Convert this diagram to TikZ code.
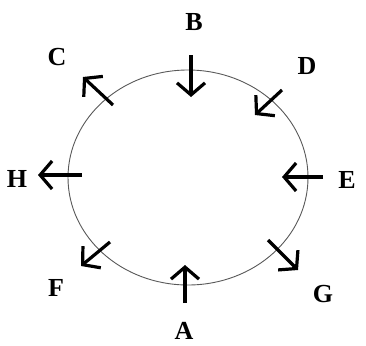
\documentclass[tikz,border=0pt]{standalone}
\usepackage{fontspec}
\setmainfont{Liberation Serif}
\usetikzlibrary{arrows.meta,shapes.geometric}
\begin{document}
\begin{tikzpicture}[x=1pt,y=-1pt,
  ring/.style={draw=black!65,line width=0.9pt},
  arr/.style={line width=3.2pt,-{Straight Barb[length=12pt,width=28pt,line width=3.2pt]}},
  lab/.style={font=\fontsize{26}{26}\selectfont\bfseries,inner sep=0pt}]
\useasboundingbox (0,0) rectangle (366,345);
\node[ring,ellipse,minimum width=240,minimum height=215,inner sep=0pt] (ring) at (188,177.5) {};
% arrows
\coordinate (Bt) at (191,55);  \coordinate (Bh) at (191,97);
\coordinate (Ct) at (113,105); \coordinate (Ch) at (83,77);
\coordinate (Dt) at (282,90);  \coordinate (Dh) at (255,115);
\coordinate (Et) at (323,177); \coordinate (Eh) at (282,177);
\coordinate (Ht) at (82,175);  \coordinate (Hh) at (38,175);
\coordinate (Ft) at (110,242); \coordinate (Fh) at (81,266);
\coordinate (Gt) at (268,240); \coordinate (Gh) at (298,270);
\coordinate (At) at (185,303); \coordinate (Ah) at (185,265);
\foreach \p in {A,B,C,D,E,F,G,H}{\draw[arr] (\p t) -- (\p h);}
% labels
\node[lab] (B) at (194,22) {B};
\node[lab] (C) at (57,57) {C};
\node[lab] (D) at (307,66) {D};
\node[lab] (H) at (17,179) {H};
\node[lab] (E) at (347,180) {E};
\node[lab] (F) at (56,288) {F};
\node[lab] (G) at (323,294) {G};
\node[lab] (A) at (184,331) {A};
\end{tikzpicture}
\end{document}
